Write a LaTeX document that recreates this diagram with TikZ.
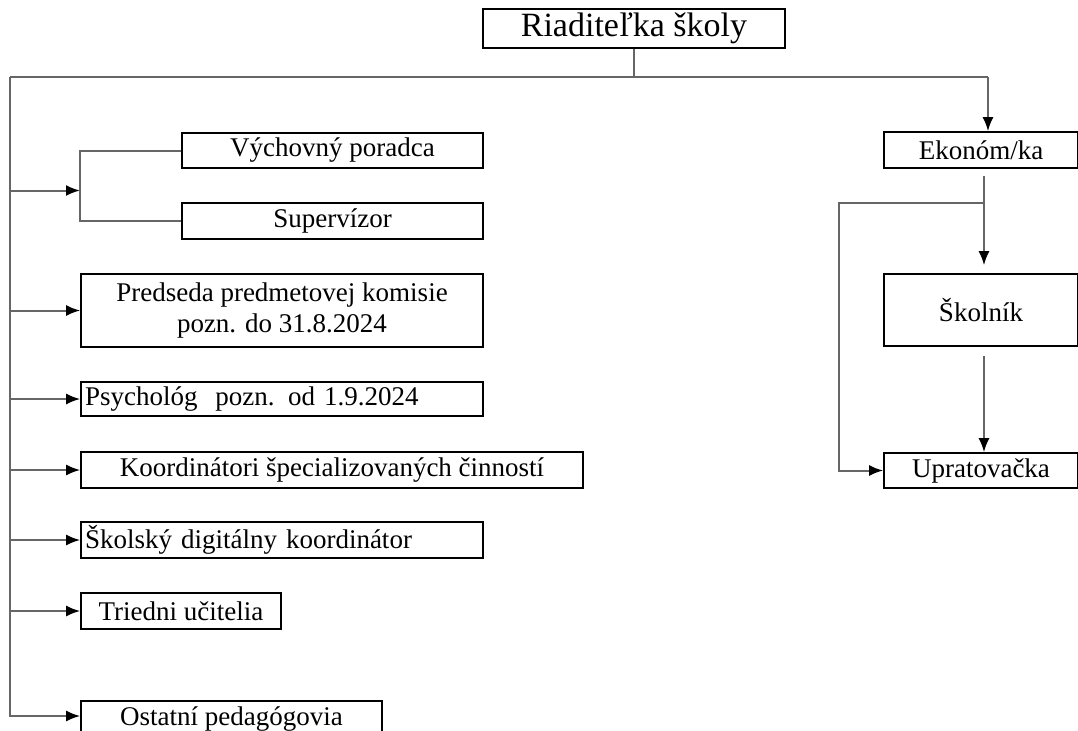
\documentclass[tikz,border=0pt]{standalone}
\usepackage{fontspec}
\setmainfont{Liberation Serif}
\usetikzlibrary{arrows.meta}

\begin{document}
\begin{tikzpicture}[x=0.5pt, y=-0.5pt, >={Latex[length=7pt,width=5.5pt,black]}]
\tikzset{
  box/.style={
    draw, rectangle, line width=0.8pt,
    minimum height=18pt, inner sep=1pt,
    align=center, font=\fontsize{13.5}{15.5}\selectfont
  },
  leftbox/.style={box, align=left, inner xsep=2pt},
  conn/.style={draw=black!60, line width=1pt}
}
\useasboundingbox (0,0) rectangle (1078,730);

% Nodes
\node[box, minimum width=151pt, minimum height=19.5pt, font=\fontsize{17}{19}\selectfont] (director) at (634,28.5) {Riaditeľka školy};

\node[box, minimum width=150.5pt, minimum height=17.5pt] (counsellor) at (332.5,150.5) {Výchovný poradca};
\node[box, minimum width=150.5pt] (supervisor) at (332.5,221) {Supervízor};
\node[box, minimum width=201pt, minimum height=36.5pt] (chair) at (282,310.5) {Predseda predmetovej komisie\\pozn. do 31.8.2024};
\node[leftbox, text width=197pt, minimum height=17pt] (psych) at (282,399) {Psychológ~ pozn. od 1.9.2024};
\node[box, minimum width=251pt] (coord) at (332,470) {Koordinátori špecializovaných činností};
\node[leftbox, text width=197pt] (digital) at (282,540) {Školský digitálny koordinátor};
\node[box, minimum width=100pt] (teachers) at (181,611) {Triedni učitelia};
\node[box, minimum width=150.5pt] (others) at (231.5,719) {Ostatní pedagógovia};

\node[box, minimum width=97pt] (economist) at (981,150) {Ekonóm/ka};
\node[box, minimum width=97pt, minimum height=36pt] (janitor) at (981,310) {Školník};
\node[box, minimum width=97pt, minimum height=17.5pt] (cleaner) at (981,470.5) {Upratovačka};

% Bus and spine
\coordinate (busL) at (10,77);
\coordinate (busR) at (988,77);
\coordinate (spineEnd) at (10,716);
\coordinate (bracket) at (80,190.5);
\coordinate (fork) at (984,203);
\coordinate (forkL) at (839,203);

\draw[conn] (director.south) -- (director.south |- busL);
\draw[conn] (busL) -- (busR);
\draw[conn, ->] (busR) -- (busR |- economist.north);

% Left branch
\draw[conn, ->] (busL) -- (spineEnd) -- (spineEnd -| others.west);
\draw[conn, ->] (bracket -| busL) -- (bracket);
\draw[conn] (counsellor.west) -- (counsellor.west -| bracket) -- (supervisor.west -| bracket) -- (supervisor.west);
\foreach \n in {chair, psych, coord, digital, teachers}
  \draw[conn, ->] (\n.west -| busL) -- (\n.west);

% Right branch
\draw[conn, shorten <=3.5pt] (economist.south -| fork) -- (fork);
\draw[conn, ->, shorten >=4pt] (fork) -- (fork |- janitor.north);
\draw[conn, ->] (fork) -- (forkL) -- (forkL |- cleaner.west) -- (cleaner.west);
\draw[conn, ->, shorten <=4.5pt] (janitor.south -| fork) -- (fork |- cleaner.north);

\end{tikzpicture}
\end{document}
